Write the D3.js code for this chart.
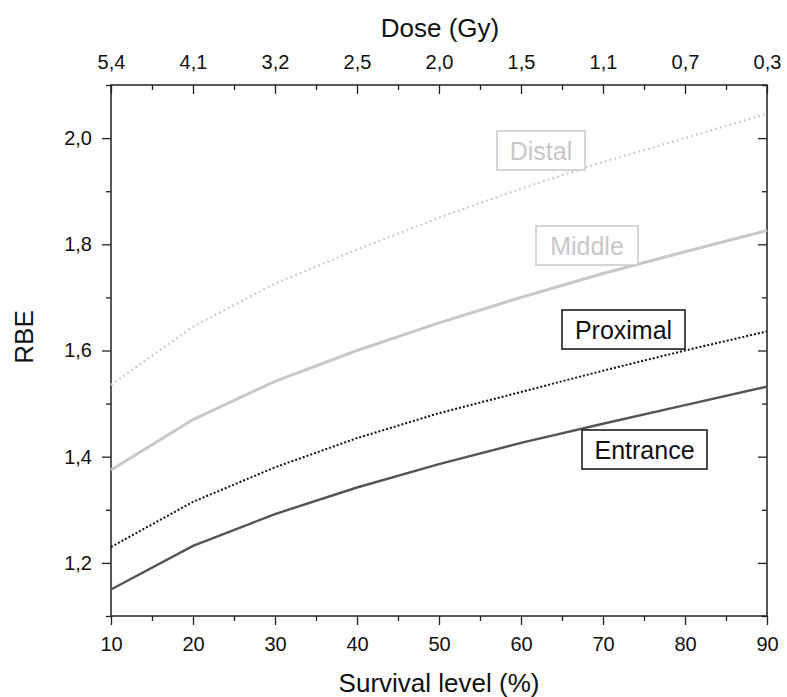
<!DOCTYPE html>
<html><head><meta charset="utf-8">
<script src="https://cdn.jsdelivr.net/npm/d3@7"></script>
<style>
body{margin:0;background:#fff;}
svg text{font-family:"Liberation Sans",Arial,sans-serif;}
</style></head>
<body>
<svg id="c" width="787" height="697"></svg>
<script>
const survival = [10,20,30,40,50,60,70,80,90];
const doseLabels = ["5,4","4,1","3,2","2,5","2,0","1,5","1,1","0,7","0,3"];
const entrance = [1.15,1.232,1.292,1.342,1.386,1.426,1.462,1.497,1.532];
const proximal = [1.23,1.315,1.38,1.435,1.482,1.522,1.562,1.600,1.636];
const middle   = [1.375,1.47,1.542,1.600,1.652,1.700,1.745,1.786,1.826];
const distal   = [1.535,1.645,1.726,1.790,1.850,1.905,1.955,2.000,2.046];
const yTicks = [1.2,1.4,1.6,1.8,2.0];

const svg = d3.select("#c");
const L=111,R=767,T=85,B=616;
const MAJ=9, MIN=5;
const x = d3.scaleLinear().domain([10,90]).range([L,R]);
const y = d3.scaleLinear().domain([1.1,2.1]).range([B,T]);
const fmt = d => d3.format(".1f")(d).replace(".",",");

// frame
svg.append("rect").attr("x",L).attr("y",T).attr("width",R-L).attr("height",B-T)
  .attr("fill","none").attr("stroke","#222").attr("stroke-width",1.5);

const tickStyle = g => { g.select(".domain").remove(); g.selectAll("line").attr("stroke","#222").attr("stroke-width",1.3); g.selectAll("text").attr("fill","#111").style("font-size","20px"); };

const minorX = d3.range(15,90,10);
const minorY = d3.range(1.1,2.11,0.2).map(v=>+v.toFixed(1));

// bottom axis (ticks outward)
svg.append("g").attr("transform",`translate(0,${B})`)
  .call(d3.axisBottom(x).tickValues(survival).tickFormat(d3.format("d")).tickSize(MAJ).tickPadding(12))
  .call(tickStyle);
svg.append("g").attr("transform",`translate(0,${B})`)
  .call(d3.axisBottom(x).tickValues(minorX).tickFormat("").tickSize(MIN)).call(tickStyle);
// top axis (ticks inward/down)
svg.append("g").attr("transform",`translate(0,${T})`)
  .call(d3.axisTop(x).tickValues(survival).tickFormat((d,i)=>doseLabels[i]).tickSize(0).tickPadding(16))
  .call(tickStyle);
svg.append("g").attr("transform",`translate(0,${T})`)
  .call(d3.axisBottom(x).tickValues(survival).tickFormat("").tickSize(MAJ)).call(tickStyle);
svg.append("g").attr("transform",`translate(0,${T})`)
  .call(d3.axisBottom(x).tickValues(minorX).tickFormat("").tickSize(MIN)).call(tickStyle);
// left axis (outward)
svg.append("g").attr("transform",`translate(${L},0)`)
  .call(d3.axisLeft(y).tickValues(yTicks).tickFormat(fmt).tickSize(MAJ).tickPadding(10))
  .call(tickStyle);
svg.append("g").attr("transform",`translate(${L},0)`)
  .call(d3.axisLeft(y).tickValues(minorY).tickFormat("").tickSize(MIN)).call(tickStyle);
// right axis (inward)
svg.append("g").attr("transform",`translate(${R},0)`)
  .call(d3.axisLeft(y).tickValues(yTicks).tickFormat("").tickSize(MAJ)).call(tickStyle);
svg.append("g").attr("transform",`translate(${R},0)`)
  .call(d3.axisLeft(y).tickValues(minorY).tickFormat("").tickSize(MIN)).call(tickStyle);

// axis titles
svg.append("text").attr("x",440).attr("y",37).attr("text-anchor","middle").style("font-size","26px").attr("fill","#111").text("Dose (Gy)");
svg.append("text").attr("x",439).attr("y",692).attr("text-anchor","middle").style("font-size","26px").attr("fill","#111").text("Survival level (%)");
svg.append("text").attr("transform",`translate(33,337) rotate(-90)`).attr("text-anchor","middle").style("font-size","26px").attr("fill","#111").text("RBE");

// lines
const line = d3.line().x((d,i)=>x(survival[i])).y(d=>y(d));
const series = [
  {v:distal, c:"#cccccc", w:2.2, dash:"2,3"},
  {v:middle, c:"#c8c8c8", w:3, dash:null},
  {v:proximal, c:"#111", w:2, dash:"2,2"},
  {v:entrance, c:"#555", w:2.4, dash:null}
];
series.forEach(s=>{
  svg.append("path").datum(s.v).attr("d",line).attr("fill","none")
    .attr("stroke",s.c).attr("stroke-width",s.w).attr("stroke-dasharray",s.dash);
});

// labels
const labels = [
  {t:"Distal", x:497, y:131, w:88, c:"#c8c8c8"},
  {t:"Middle", x:536, y:226, w:102, c:"#c8c8c8"},
  {t:"Proximal", x:562, y:310, w:123, c:"#111"},
  {t:"Entrance", x:582, y:430, w:125, c:"#111"}
];
labels.forEach(l=>{
  svg.append("rect").attr("x",l.x).attr("y",l.y).attr("width",l.w).attr("height",39)
    .attr("fill","#fff").attr("stroke",l.c).attr("stroke-width",1.5);
  svg.append("text").attr("x",l.x+l.w/2).attr("y",l.y+28.5).attr("text-anchor","middle")
    .style("font-size","25px").attr("fill",l.c).text(l.t);
});
</script>
</body></html>
